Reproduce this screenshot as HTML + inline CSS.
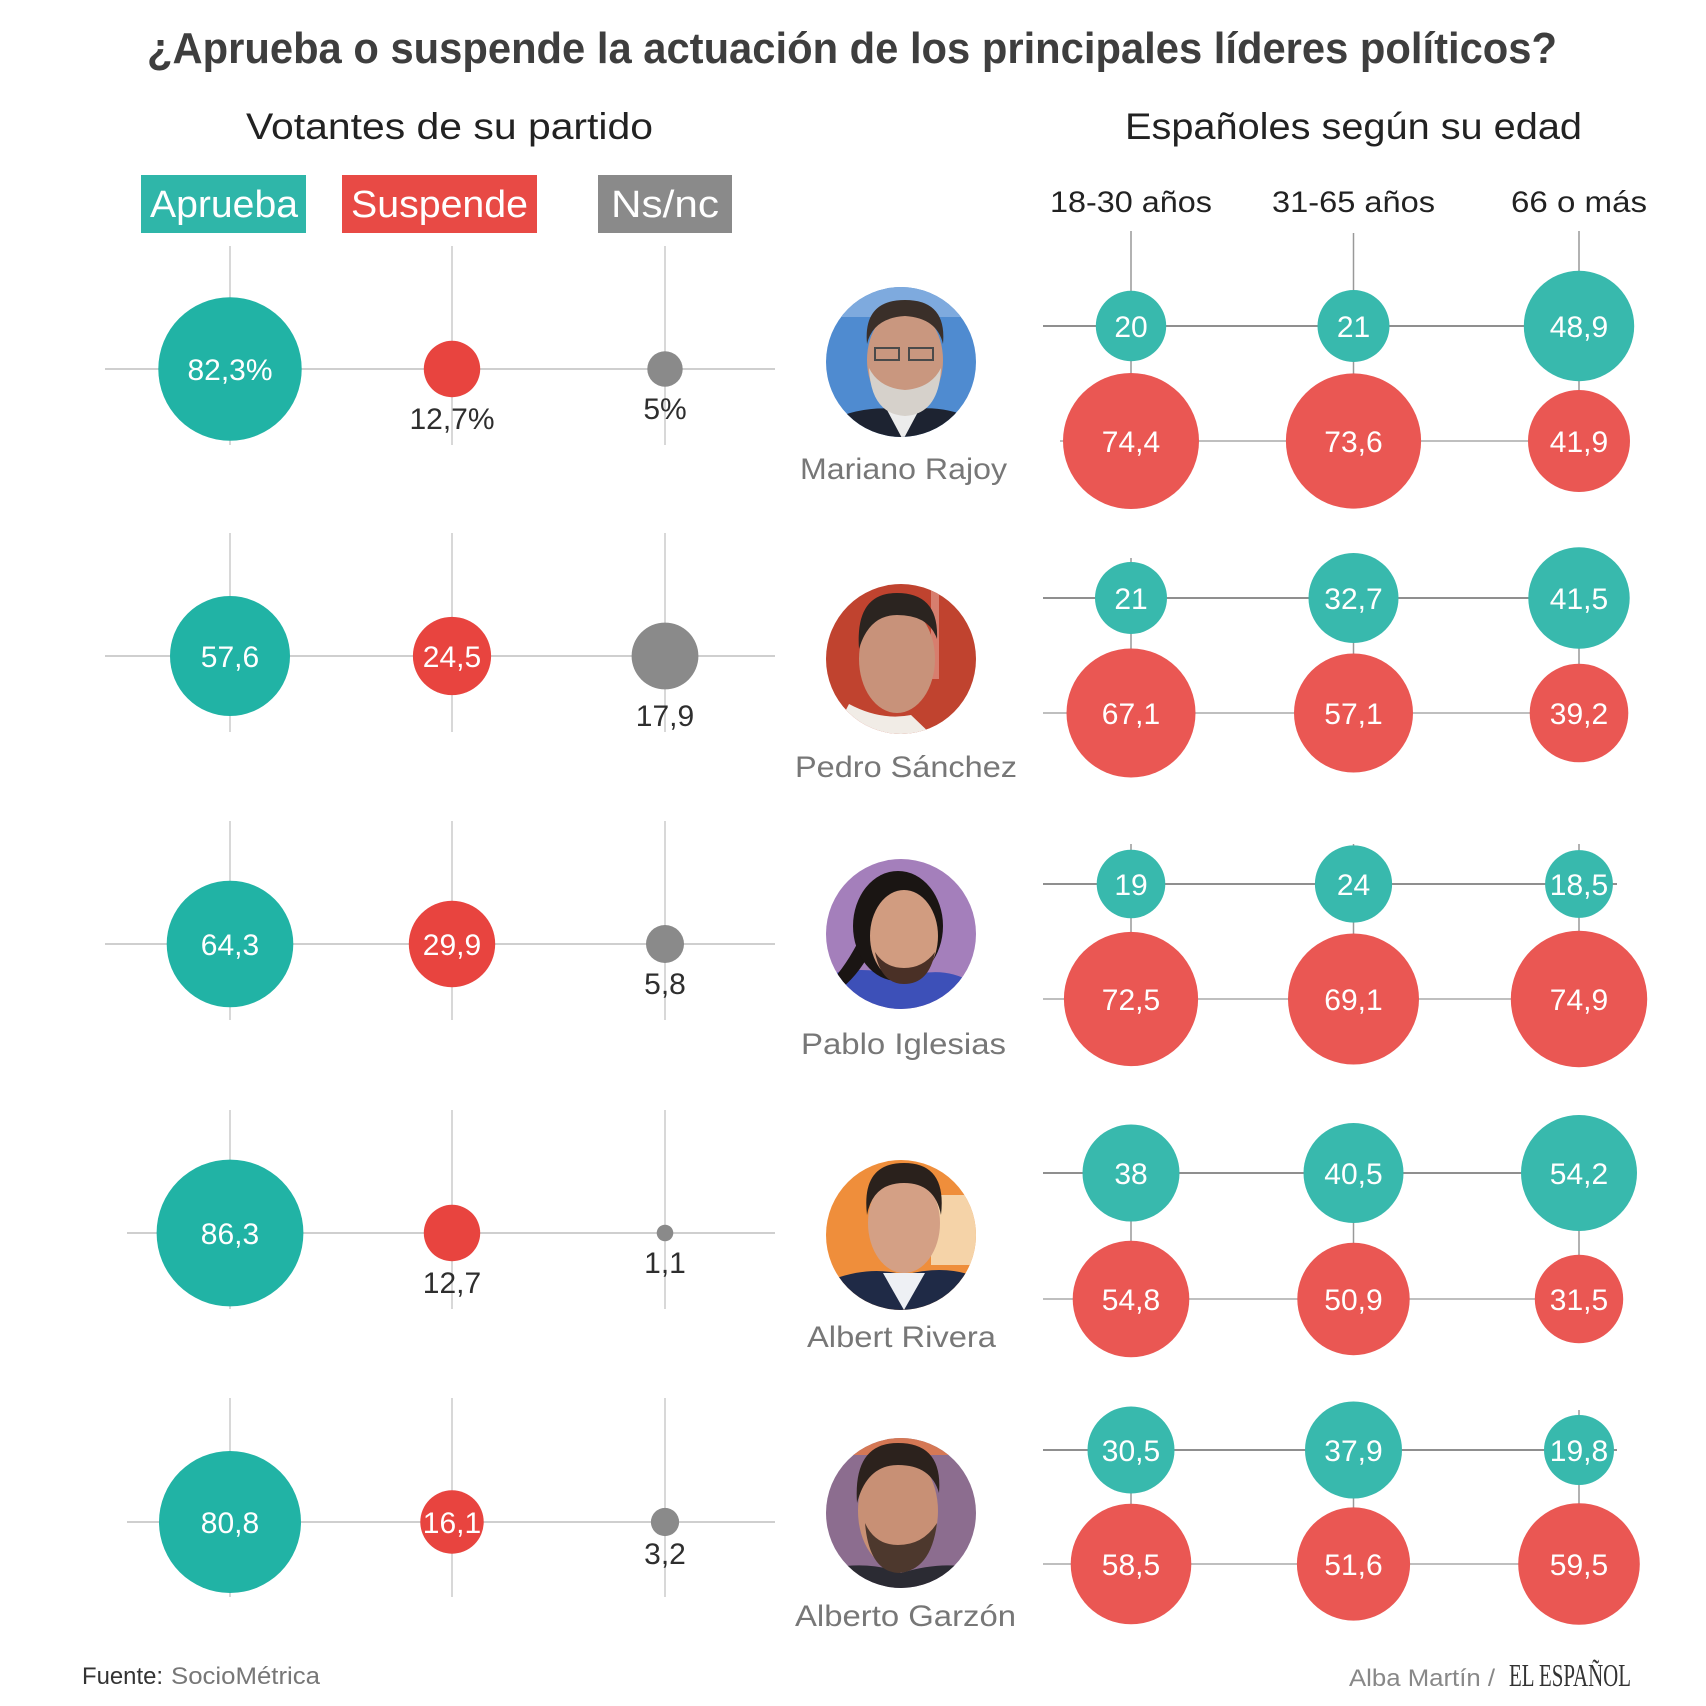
<!DOCTYPE html>
<html><head><meta charset="utf-8"><style>
html,body{margin:0;padding:0;background:#fff;}
svg{display:block;}
</style></head><body>
<svg width="1706" height="1706" viewBox="0 0 1706 1706" xmlns="http://www.w3.org/2000/svg" font-family="'Liberation Sans', Arial, sans-serif">
<defs><clipPath id="pc"><circle cx="0" cy="0" r="75"/></clipPath></defs>
<rect width="1706" height="1706" fill="#fff"/>

<!-- Title -->
<text x="147" y="63" font-size="44" font-weight="bold" fill="#3e3e3e" textLength="1410" lengthAdjust="spacingAndGlyphs">¿Aprueba o suspende la actuación de los principales líderes políticos?</text>
<text x="246" y="139" font-size="37" fill="#222" textLength="407" lengthAdjust="spacingAndGlyphs">Votantes de su partido</text>
<text x="1125" y="139" font-size="37" fill="#222" textLength="457" lengthAdjust="spacingAndGlyphs">Españoles según su edad</text>

<!-- Legend -->
<rect x="141" y="175" width="165" height="58" fill="#2fb6a9"/>
<text x="150" y="217" font-size="38" fill="#fff" textLength="148" lengthAdjust="spacingAndGlyphs">Aprueba</text>
<rect x="342" y="175" width="195" height="58" fill="#e84a45"/>
<text x="351" y="217" font-size="38" fill="#fff" textLength="177" lengthAdjust="spacingAndGlyphs">Suspende</text>
<rect x="598" y="175" width="134" height="58" fill="#8a8a8a"/>
<text x="611" y="217" font-size="38" fill="#fff" textLength="108" lengthAdjust="spacingAndGlyphs">Ns/nc</text>

<!-- Age headers -->
<text x="1050" y="212" font-size="30" fill="#222" textLength="162" lengthAdjust="spacingAndGlyphs">18-30 años</text>
<text x="1272" y="212" font-size="30" fill="#222" textLength="163" lengthAdjust="spacingAndGlyphs">31-65 años</text>
<text x="1511" y="212" font-size="30" fill="#222" textLength="136" lengthAdjust="spacingAndGlyphs">66 o más</text>

<!-- LEFT grid lines -->
<g stroke="#cfcfcf" stroke-width="2">
<line x1="105" y1="369" x2="775" y2="369"/>
<line x1="105" y1="656" x2="775" y2="656"/>
<line x1="105" y1="944" x2="775" y2="944"/>
<line x1="127" y1="1233" x2="775" y2="1233"/>
<line x1="127" y1="1522" x2="775" y2="1522"/>
</g>
<g stroke="#cfcfcf" stroke-width="1.6">
<line x1="230" y1="246" x2="230" y2="445"/><line x1="452" y1="246" x2="452" y2="445"/><line x1="665" y1="246" x2="665" y2="445"/>
<line x1="230" y1="533" x2="230" y2="732"/><line x1="452" y1="533" x2="452" y2="732"/><line x1="665" y1="533" x2="665" y2="732"/>
<line x1="230" y1="821" x2="230" y2="1020"/><line x1="452" y1="821" x2="452" y2="1020"/><line x1="665" y1="821" x2="665" y2="1020"/>
<line x1="230" y1="1110" x2="230" y2="1309"/><line x1="452" y1="1110" x2="452" y2="1309"/><line x1="665" y1="1110" x2="665" y2="1309"/>
<line x1="230" y1="1398" x2="230" y2="1597"/><line x1="452" y1="1398" x2="452" y2="1597"/><line x1="665" y1="1398" x2="665" y2="1597"/>
</g>

<!-- LEFT circles -->
<g fill="#21b3a5">
<circle cx="230" cy="369" r="71.7"/>
<circle cx="230" cy="656" r="60"/>
<circle cx="230" cy="944" r="63.3"/>
<circle cx="230" cy="1233" r="73.4"/>
<circle cx="230" cy="1522" r="71"/>
</g>
<g fill="#e8443f">
<circle cx="452" cy="369" r="28.2"/>
<circle cx="452" cy="656" r="39.1"/>
<circle cx="452" cy="944" r="43.2"/>
<circle cx="452" cy="1233" r="28.2"/>
<circle cx="452" cy="1522" r="31.7"/>
</g>
<g fill="#8a8a8a">
<circle cx="665" cy="369" r="17.7"/>
<circle cx="665" cy="656" r="33.4"/>
<circle cx="665" cy="944" r="19"/>
<circle cx="665" cy="1233" r="8.3"/>
<circle cx="665" cy="1522" r="14.1"/>
</g>
<g font-size="30" fill="#fff" text-anchor="middle">
<text x="230" y="380">82,3%</text>
<text x="230" y="667">57,6</text>
<text x="452" y="667">24,5</text>
<text x="230" y="955">64,3</text>
<text x="452" y="955">29,9</text>
<text x="230" y="1244">86,3</text>
<text x="230" y="1533">80,8</text>
<text x="452" y="1533">16,1</text>
</g>
<g font-size="30" fill="#2e2e2e" text-anchor="middle">
<text x="452" y="429">12,7%</text>
<text x="665" y="419">5%</text>
<text x="665" y="726">17,9</text>
<text x="665" y="994">5,8</text>
<text x="452" y="1293">12,7</text>
<text x="665" y="1273">1,1</text>
<text x="665" y="1564">3,2</text>
</g>

<!-- RIGHT lines -->
<g stroke="#999" stroke-width="1.5">
<line x1="1131" y1="231" x2="1131" y2="441"/><line x1="1353.5" y1="233" x2="1353.5" y2="441"/><line x1="1579" y1="231" x2="1579" y2="441"/>
<line x1="1131" y1="558" x2="1131" y2="713"/><line x1="1353.5" y1="558" x2="1353.5" y2="713"/><line x1="1579" y1="558" x2="1579" y2="713"/>
<line x1="1131" y1="844" x2="1131" y2="999"/><line x1="1353.5" y1="844" x2="1353.5" y2="999"/><line x1="1579" y1="844" x2="1579" y2="999"/>
<line x1="1131" y1="1133" x2="1131" y2="1299"/><line x1="1353.5" y1="1133" x2="1353.5" y2="1299"/><line x1="1579" y1="1133" x2="1579" y2="1299"/>
<line x1="1131" y1="1410" x2="1131" y2="1564"/><line x1="1353.5" y1="1410" x2="1353.5" y2="1564"/><line x1="1579" y1="1410" x2="1579" y2="1564"/>
</g>
<g stroke="#6a6a6a" stroke-width="1.5">
<line x1="1043" y1="326" x2="1617" y2="326"/>
<line x1="1043" y1="598" x2="1617" y2="598"/>
<line x1="1043" y1="884" x2="1617" y2="884"/>
<line x1="1043" y1="1173" x2="1617" y2="1173"/>
<line x1="1043" y1="1450" x2="1617" y2="1450"/>
</g>
<g stroke="#aaa" stroke-width="1.5">
<line x1="1060" y1="441" x2="1617" y2="441"/>
<line x1="1043" y1="713" x2="1617" y2="713"/>
<line x1="1043" y1="999" x2="1617" y2="999"/>
<line x1="1043" y1="1299" x2="1617" y2="1299"/>
<line x1="1043" y1="1564" x2="1617" y2="1564"/>
</g>

<!-- RIGHT circles -->
<g fill="#38b9ad">
<circle cx="1131" cy="326" r="35.2"/><circle cx="1353.5" cy="326" r="36"/><circle cx="1579" cy="326" r="55.2"/>
<circle cx="1131" cy="598" r="36"/><circle cx="1353.5" cy="598" r="45"/><circle cx="1579" cy="598" r="50.7"/>
<circle cx="1131" cy="884" r="34.3"/><circle cx="1353.5" cy="884" r="38.6"/><circle cx="1579" cy="884" r="33.9"/>
<circle cx="1131" cy="1173" r="48.5"/><circle cx="1353.5" cy="1173" r="50"/><circle cx="1579" cy="1173" r="58"/>
<circle cx="1131" cy="1450" r="43.5"/><circle cx="1353.5" cy="1450" r="48.5"/><circle cx="1579" cy="1450" r="35"/>
</g>
<g fill="#ea5753">
<circle cx="1131" cy="441" r="68"/><circle cx="1353.5" cy="441" r="67.6"/><circle cx="1579" cy="441" r="51"/>
<circle cx="1131" cy="713" r="64.5"/><circle cx="1353.5" cy="713" r="59.5"/><circle cx="1579" cy="713" r="49.3"/>
<circle cx="1131" cy="999" r="67.1"/><circle cx="1353.5" cy="999" r="65.5"/><circle cx="1579" cy="999" r="68.2"/>
<circle cx="1131" cy="1299" r="58.3"/><circle cx="1353.5" cy="1299" r="56.2"/><circle cx="1579" cy="1299" r="44.2"/>
<circle cx="1131" cy="1564" r="60.3"/><circle cx="1353.5" cy="1564" r="56.6"/><circle cx="1579" cy="1564" r="60.8"/>
</g>
<g font-size="30" fill="#fff" text-anchor="middle">
<text x="1131" y="337">20</text><text x="1353.5" y="337">21</text><text x="1579" y="337">48,9</text>
<text x="1131" y="452">74,4</text><text x="1353.5" y="452">73,6</text><text x="1579" y="452">41,9</text>
<text x="1131" y="609">21</text><text x="1353.5" y="609">32,7</text><text x="1579" y="609">41,5</text>
<text x="1131" y="724">67,1</text><text x="1353.5" y="724">57,1</text><text x="1579" y="724">39,2</text>
<text x="1131" y="895">19</text><text x="1353.5" y="895">24</text><text x="1579" y="895">18,5</text>
<text x="1131" y="1010">72,5</text><text x="1353.5" y="1010">69,1</text><text x="1579" y="1010">74,9</text>
<text x="1131" y="1184">38</text><text x="1353.5" y="1184">40,5</text><text x="1579" y="1184">54,2</text>
<text x="1131" y="1310">54,8</text><text x="1353.5" y="1310">50,9</text><text x="1579" y="1310">31,5</text>
<text x="1131" y="1461">30,5</text><text x="1353.5" y="1461">37,9</text><text x="1579" y="1461">19,8</text>
<text x="1131" y="1575">58,5</text><text x="1353.5" y="1575">51,6</text><text x="1579" y="1575">59,5</text>
</g>

<!-- Portraits -->
<!-- Rajoy -->
<g transform="translate(901,362)"><g clip-path="url(#pc)">
<rect x="-80" y="-80" width="160" height="160" fill="#4f8bd0"/>
<rect x="-80" y="-80" width="160" height="35" fill="#7eaade"/>
<path d="M-80 80 L-70 58 Q-35 42 4 48 Q40 42 70 56 L80 80Z" fill="#1d2331"/>
<path d="M-14 48 L2 78 L18 48Z" fill="#ececec"/>
<ellipse cx="4" cy="-2" rx="38" ry="52" fill="#c9977f"/>
<path d="M-34 -18 Q-38 -62 4 -62 Q46 -62 42 -18 Q36 -44 4 -46 Q-28 -44 -34 -18Z" fill="#3a2f29"/>
<path d="M-32 6 Q-30 52 4 54 Q38 52 40 6 Q30 26 4 28 Q-22 26 -32 6Z" fill="#d6d1cb"/>
<rect x="-26" y="-14" width="24" height="12" fill="none" stroke="#4a4a4a" stroke-width="2"/>
<rect x="8" y="-14" width="24" height="12" fill="none" stroke="#4a4a4a" stroke-width="2"/>
</g></g>
<!-- Sanchez -->
<g transform="translate(901,659)"><g clip-path="url(#pc)">
<rect x="-80" y="-80" width="160" height="160" fill="#c0432f"/>
<rect x="30" y="-80" width="8" height="100" fill="#d77e6e"/>
<path d="M-70 80 L-52 45 Q-20 62 10 56 L35 80Z" fill="#f1ece6"/>
<ellipse cx="-4" cy="0" rx="38" ry="54" fill="#c8927a"/>
<path d="M-42 -10 Q-46 -66 -4 -66 Q38 -66 36 -20 Q28 -44 -4 -44 Q-32 -44 -42 -10Z" fill="#2b2420"/>
</g></g>
<!-- Iglesias -->
<g transform="translate(901,934)"><g clip-path="url(#pc)">
<rect x="-80" y="-80" width="160" height="160" fill="#a47fbb"/>
<path d="M-80 80 L-70 40 Q-30 30 0 45 Q40 30 70 48 L80 80Z" fill="#3d50b8"/>
<path d="M-44 10 Q-60 40 -78 55 L-70 62 Q-48 48 -34 24Z" fill="#1a1513"/>
<ellipse cx="-3" cy="-8" rx="45" ry="55" fill="#1a1513"/>
<ellipse cx="3" cy="2" rx="34" ry="46" fill="#d19c80"/>
<path d="M-26 18 Q-20 50 3 50 Q28 50 34 18 Q22 34 3 34 Q-16 34 -26 18Z" fill="#4a3026"/>
</g></g>
<!-- Rivera -->
<g transform="translate(901,1235)"><g clip-path="url(#pc)">
<rect x="-80" y="-80" width="160" height="160" fill="#ef8e3b"/>
<rect x="30" y="-40" width="50" height="70" fill="#f5d3a8"/>
<path d="M-80 80 L-70 45 Q-30 30 3 40 Q40 30 70 40 L80 80Z" fill="#1f2a46"/>
<path d="M-18 38 L3 75 L24 38Z" fill="#eef0f4"/>
<ellipse cx="3" cy="-12" rx="36" ry="50" fill="#d4a085"/>
<path d="M-34 -20 Q-40 -72 3 -72 Q46 -72 40 -20 Q34 -52 3 -52 Q-28 -52 -34 -20Z" fill="#2a211c"/>
</g></g>
<!-- Garzon -->
<g transform="translate(901,1513)"><g clip-path="url(#pc)">
<rect x="-80" y="-80" width="160" height="160" fill="#8c6d8f"/>
<rect x="-80" y="-80" width="160" height="22" fill="#d57855"/>
<path d="M-80 80 L-70 55 Q-30 48 0 60 Q40 48 70 55 L80 80Z" fill="#2b2b33"/>
<ellipse cx="-3" cy="-2" rx="40" ry="58" fill="#c89075"/>
<path d="M-44 -10 Q-48 -70 -3 -70 Q42 -70 38 -20 Q30 -48 -3 -48 Q-34 -48 -44 -10Z" fill="#2c221d"/>
<path d="M-36 10 Q-32 58 -3 60 Q30 58 36 10 Q22 32 -3 32 Q-26 32 -36 10Z" fill="#4d382d"/>
</g></g>

<!-- Names -->
<g font-size="30" fill="#777">
<text x="800" y="479" textLength="207" lengthAdjust="spacingAndGlyphs">Mariano Rajoy</text>
<text x="795" y="777" textLength="222" lengthAdjust="spacingAndGlyphs">Pedro Sánchez</text>
<text x="801" y="1054" textLength="205" lengthAdjust="spacingAndGlyphs">Pablo Iglesias</text>
<text x="807" y="1347" textLength="189" lengthAdjust="spacingAndGlyphs">Albert Rivera</text>
<text x="795" y="1626" textLength="221" lengthAdjust="spacingAndGlyphs">Alberto Garzón</text>
</g>

<!-- Footer -->
<text x="82" y="1684" font-size="24" fill="#333" textLength="81" lengthAdjust="spacingAndGlyphs">Fuente:</text>
<text x="171" y="1684" font-size="24" fill="#777" textLength="149" lengthAdjust="spacingAndGlyphs">SocioMétrica</text>
<text x="1349" y="1686" font-size="24" fill="#888" textLength="146" lengthAdjust="spacingAndGlyphs">Alba Martín /</text>
<text x="1509" y="1686" font-size="32" fill="#333" font-family="'Liberation Serif', serif" textLength="122" lengthAdjust="spacingAndGlyphs">EL ESPAÑOL</text>
</svg>
</body></html>
